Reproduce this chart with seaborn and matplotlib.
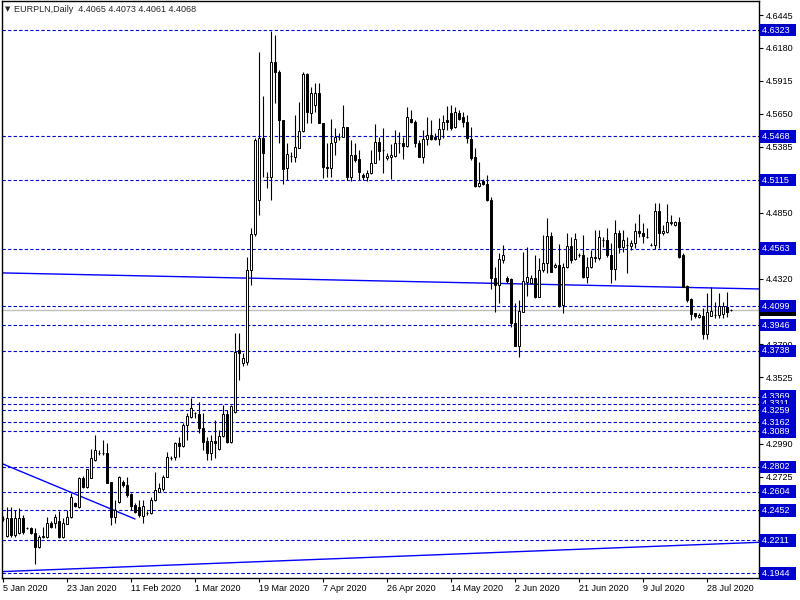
import numpy as np
import pandas as pd
import matplotlib
matplotlib.use("Agg")
import matplotlib.pyplot as plt
import matplotlib.transforms as mtransforms
import seaborn as sns

symbol = "EURPLN,Daily"

# daily candles, one per trading day (broker has Sunday bars), 5 Jan 2020 .. 4 Aug 2020
opens = [
    4.2383, 4.2246, 4.2391, 4.2254, 4.2270, 4.2391, 4.2310, 4.2310, 4.2270, 4.2157,
    4.2238, 4.2238, 4.2351, 4.2351, 4.2367, 4.2238, 4.2343, 4.2399, 4.2512, 4.2480,
    4.2713, 4.2641, 4.2713, 4.2858, 4.2915, 4.2915, 4.2915, 4.2681, 4.2399, 4.2520,
    4.2681, 4.2657, 4.2584, 4.2496, 4.2480, 4.2407, 4.2431, 4.2431, 4.2536, 4.2600,
    4.2625, 4.2721, 4.2875, 4.2883, 4.2995, 4.2971, 4.3140, 4.3205, 4.3237, 4.3229,
    4.3116, 4.3012, 4.2915, 4.3012, 4.2947, 4.3052, 4.3229, 4.3003, 4.3245, 4.3745,
    4.3640, 4.3648, 4.4390, 4.4680, 4.4954, 4.5454, 4.5139, 4.5139, 4.6066, 4.5986,
    4.5599, 4.5212, 4.5309, 4.5301, 4.5373, 4.5510, 4.5970, 4.5655, 4.5720, 4.5816,
    4.5575, 4.5220, 4.5212, 4.5421, 4.5462, 4.5462, 4.5542, 4.5139, 4.5317, 4.5284,
    4.5155, 4.5139, 4.5172, 4.5252, 4.5421, 4.5357, 4.5293, 4.5301, 4.5309, 4.5413,
    4.5413, 4.5389, 4.5607, 4.5583, 4.5413, 4.5301, 4.5446, 4.5478, 4.5462, 4.5446,
    4.5526, 4.5599, 4.5655, 4.5542, 4.5655, 4.5623, 4.5583, 4.5446, 4.5301, 4.5067,
    4.5107, 4.5083, 4.4954, 4.4325, 4.4269, 4.4470, 4.4325, 4.4317, 4.3963, 4.3777,
    4.4051, 4.4293, 4.4285, 4.4325, 4.4172, 4.4390, 4.4446, 4.4664, 4.4414, 4.4430,
    4.4108, 4.4414, 4.4583, 4.4478, 4.4511, 4.4511, 4.4333, 4.4414, 4.4487, 4.4487,
    4.4632, 4.4632, 4.4511, 4.4398, 4.4688, 4.4575, 4.4591, 4.4583, 4.4607, 4.4704,
    4.4688, 4.4656, 4.4591, 4.4591, 4.4865, 4.4688, 4.4696, 4.4769, 4.4752, 4.4777,
    4.4511, 4.4261, 4.4156, 4.4043, 4.4011, 4.4019, 4.3874, 4.4019, 4.4027, 4.4027,
    4.4035, 4.4092, 4.4065,
]
highs = [
    4.2407, 4.2480, 4.2480, 4.2455, 4.2472, 4.2415, 4.2318, 4.2318, 4.2310, 4.2254,
    4.2318, 4.2399, 4.2367, 4.2423, 4.2447, 4.2391, 4.2455, 4.2592, 4.2520, 4.2721,
    4.2729, 4.2786, 4.2947, 4.3060, 4.2939, 4.3020, 4.2995, 4.2681, 4.2536, 4.2729,
    4.2697, 4.2721, 4.2592, 4.2512, 4.2536, 4.2536, 4.2447, 4.2560, 4.2762, 4.2673,
    4.2737, 4.2923, 4.2891, 4.3003, 4.3044, 4.3157, 4.3237, 4.3358, 4.3245, 4.3326,
    4.3237, 4.3044, 4.3060, 4.3181, 4.3100, 4.3302, 4.3261, 4.3302, 4.3882, 4.3882,
    4.3721, 4.4495, 4.4728, 4.5454, 4.6147, 4.5792, 4.5180, 4.6316, 4.6284, 4.6002,
    4.5599, 4.5413, 4.5341, 4.5639, 4.5744, 4.5986, 4.5978, 4.5865, 4.5897, 4.5897,
    4.5575, 4.5413, 4.5607, 4.5534, 4.5494, 4.5720, 4.5542, 4.5438, 4.5413, 4.5357,
    4.5172, 4.5196, 4.5357, 4.5567, 4.5462, 4.5534, 4.5333, 4.5405, 4.5518, 4.5502,
    4.5462, 4.5704, 4.5679, 4.5599, 4.5438, 4.5518, 4.5623, 4.5599, 4.5494, 4.5615,
    4.5639, 4.5712, 4.5720, 4.5704, 4.5679, 4.5663, 4.5639, 4.5542, 4.5373, 4.5260,
    4.5123, 4.5155, 4.4978, 4.4414, 4.4527, 4.4591, 4.4341, 4.4325, 4.4124, 4.4148,
    4.4535, 4.4575, 4.4349, 4.4511, 4.4487, 4.4672, 4.4809, 4.4696, 4.4446, 4.4599,
    4.4446, 4.4688, 4.4656, 4.4688, 4.4527, 4.4672, 4.4495, 4.4551, 4.4712, 4.4712,
    4.4656, 4.4728, 4.4607, 4.4793, 4.4712, 4.4712, 4.4656, 4.4632, 4.4769, 4.4841,
    4.4769, 4.4728, 4.4607, 4.4930, 4.4930, 4.4752, 4.4922, 4.4833, 4.4785, 4.4817,
    4.4527, 4.4269, 4.4164, 4.4043, 4.4043, 4.4084, 4.4204, 4.4253, 4.4132, 4.4204,
    4.4132, 4.4212, 4.4073,
]
lows = [
    4.2367, 4.2238, 4.2238, 4.2238, 4.2262, 4.2262, 4.2302, 4.2262, 4.2020, 4.2149,
    4.2230, 4.2230, 4.2310, 4.2310, 4.2230, 4.2230, 4.2343, 4.2391, 4.2480, 4.2472,
    4.2633, 4.2633, 4.2713, 4.2850, 4.2899, 4.2899, 4.2673, 4.2334, 4.2351, 4.2512,
    4.2641, 4.2560, 4.2455, 4.2431, 4.2399, 4.2351, 4.2415, 4.2423, 4.2528, 4.2600,
    4.2609, 4.2721, 4.2858, 4.2858, 4.2883, 4.2963, 4.3020, 4.3197, 4.3197, 4.3076,
    4.2939, 4.2858, 4.2858, 4.2875, 4.2939, 4.3044, 4.2995, 4.2995, 4.3237, 4.3503,
    4.3616, 4.3624, 4.4269, 4.4664, 4.4833, 4.5139, 4.5051, 4.4954, 4.5736, 4.5413,
    4.5083, 4.5115, 4.5260, 4.5260, 4.5373, 4.5502, 4.5575, 4.5575, 4.5663, 4.5575,
    4.5131, 4.5139, 4.5139, 4.5317, 4.5438, 4.5462, 4.5115, 4.5107, 4.5260, 4.5115,
    4.5115, 4.5107, 4.5164, 4.5252, 4.5276, 4.5172, 4.5276, 4.5123, 4.5301, 4.5333,
    4.5284, 4.5381, 4.5575, 4.5381, 4.5301, 4.5252, 4.5397, 4.5438, 4.5438, 4.5397,
    4.5454, 4.5518, 4.5518, 4.5534, 4.5599, 4.5542, 4.5413, 4.5276, 4.5059, 4.5059,
    4.5075, 4.4946, 4.4237, 4.4051, 4.4124, 4.4446, 4.4285, 4.3930, 4.3777, 4.3689,
    4.4051, 4.4180, 4.4285, 4.4164, 4.4172, 4.4374, 4.4366, 4.4374, 4.4406, 4.4092,
    4.4043, 4.4406, 4.4446, 4.4470, 4.4495, 4.4325, 4.4285, 4.4406, 4.4454, 4.4470,
    4.4575, 4.4495, 4.4285, 4.4309, 4.4527, 4.4535, 4.4366, 4.4551, 4.4567, 4.4656,
    4.4607, 4.4648, 4.4583, 4.4559, 4.4567, 4.4672, 4.4688, 4.4752, 4.4744, 4.4487,
    4.4253, 4.4132, 4.3987, 4.4003, 4.4003, 4.3834, 4.3834, 4.4019, 4.4003, 4.4003,
    4.4003, 4.4011, 4.4061,
]
closes = [
    4.2383, 4.2391, 4.2254, 4.2391, 4.2391, 4.2278, 4.2310, 4.2270, 4.2157, 4.2238,
    4.2246, 4.2351, 4.2318, 4.2399, 4.2238, 4.2351, 4.2399, 4.2560, 4.2488, 4.2713,
    4.2641, 4.2786, 4.2875, 4.2939, 4.2915, 4.2915, 4.2673, 4.2399, 4.2455, 4.2721,
    4.2657, 4.2576, 4.2488, 4.2439, 4.2415, 4.2488, 4.2431, 4.2536, 4.2617, 4.2633,
    4.2721, 4.2883, 4.2875, 4.2995, 4.2971, 4.3140, 4.3213, 4.3278, 4.3237, 4.3116,
    4.3003, 4.2915, 4.3012, 4.2995, 4.3052, 4.3229, 4.3003, 4.3294, 4.3729, 4.3721,
    4.3681, 4.4390, 4.4680, 4.5438, 4.5454, 4.5333, 4.5139, 4.6066, 4.5986, 4.5599,
    4.5204, 4.5325, 4.5309, 4.5381, 4.5510, 4.5970, 4.5663, 4.5816, 4.5816, 4.5575,
    4.5220, 4.5212, 4.5413, 4.5462, 4.5462, 4.5542, 4.5139, 4.5317, 4.5276, 4.5180,
    4.5139, 4.5172, 4.5252, 4.5421, 4.5349, 4.5357, 4.5309, 4.5317, 4.5413, 4.5413,
    4.5389, 4.5623, 4.5583, 4.5413, 4.5301, 4.5446, 4.5478, 4.5446, 4.5446, 4.5526,
    4.5583, 4.5583, 4.5534, 4.5663, 4.5607, 4.5583, 4.5454, 4.5293, 4.5067, 4.5091,
    4.5083, 4.4954, 4.4325, 4.4269, 4.4478, 4.4511, 4.4301, 4.3963, 4.3777, 4.4059,
    4.4301, 4.4333, 4.4325, 4.4172, 4.4390, 4.4446, 4.4664, 4.4374, 4.4430, 4.4100,
    4.4414, 4.4583, 4.4470, 4.4640, 4.4511, 4.4333, 4.4414, 4.4495, 4.4495, 4.4656,
    4.4632, 4.4511, 4.4398, 4.4688, 4.4575, 4.4632, 4.4591, 4.4607, 4.4704, 4.4688,
    4.4664, 4.4656, 4.4591, 4.4865, 4.4688, 4.4704, 4.4777, 4.4777, 4.4777, 4.4495,
    4.4253, 4.4148, 4.4035, 4.4019, 4.4027, 4.3874, 4.4051, 4.4059, 4.4027, 4.4100,
    4.4100, 4.4051, 4.4068,
]

# every 16th bar gets a date label
date_labels = ["5 Jan 2020", "23 Jan 2020", "11 Feb 2020", "1 Mar 2020", "19 Mar 2020",
               "7 Apr 2020", "26 Apr 2020", "14 May 2020", "2 Jun 2020", "21 Jun 2020",
               "9 Jul 2020", "28 Jul 2020"]
date_step = 16

# price scale labels that are not fully covered by a level box
price_ticks = [4.6445, 4.6180, 4.5915, 4.5650, 4.5385, 4.4850, 4.4320,
               4.4055, 4.3790, 4.3525, 4.2990, 4.2725, 4.2195, 4.1930]

# horizontal support / resistance levels
levels = [4.6323, 4.5468, 4.5115, 4.4563, 4.4099, 4.3946, 4.3738, 4.3369, 4.3311,
          4.3259, 4.3162, 4.3089, 4.2802, 4.2604, 4.2452, 4.2211, 4.1944]

# trend lines: anchor bars and prices
trend_bars = [[-1, 189], [0, 33], [-1, 189]]
trend_prices = [[4.4367, 4.4237], [4.2826, 4.2383], [4.1958, 4.2195]]

sns.set_style("white")
plt.rcParams['font.family'] = ['Liberation Sans', 'DejaVu Sans']

o = np.array(opens)
h = np.array(highs)
l = np.array(lows)
c = np.array(closes)
x = np.arange(len(o))
up = c >= o

fig = plt.figure(figsize=(8, 6), dpi=100)
ax = fig.add_axes([2 / 800, 1 - 578 / 600, 757 / 800, 577 / 600])

level_blue = '#0000CD'
for lv in levels:
    ax.axhline(lv, color=level_blue, lw=0.8, linestyle=(0, (3, 2)), zorder=1)

ax.axhline(c[-1], color='#C0C0C0', lw=1, zorder=1)

for bars, prices in zip(trend_bars, trend_prices):
    tl = pd.DataFrame({'bar': bars, 'price': prices})
    sns.lineplot(data=tl, x='bar', y='price', ax=ax, color='#0000FF', lw=1, zorder=2)

ax.vlines(x, l, h, color='black', lw=0.8, zorder=3)
ax.bar(x, np.abs(c - o), bottom=np.minimum(o, c), width=0.5,
       color=np.where(up, 'white', 'black'), edgecolor='black', linewidth=0.7, zorder=4)

ax.set_xlim(-0.25, 189)
ax.set_ylim(4.6566 - 0.000806 * 578, 4.6566 - 0.000806 * 1)
ax.set_xlabel('')
ax.set_ylabel('')

ax.yaxis.tick_right()
ax.set_yticks(price_ticks)
ax.set_yticklabels([f"{t:.4f}" for t in price_ticks])
ax.set_xticks(np.arange(len(date_labels)) * date_step)
ax.set_xticklabels(date_labels, ha='left')
ax.tick_params(axis='y', length=3, width=0.8, pad=2, labelsize=6.5, colors='black', right=True)
ax.tick_params(axis='x', length=3, width=0.8, pad=1.5, labelsize=6.5, colors='black', bottom=True)
for sp in ax.spines.values():
    sp.set_color('black')
    sp.set_linewidth(1)

trans = mtransforms.blended_transform_factory(ax.transAxes, ax.transData)
# current price box sits under the level boxes
ax.text(1.004, c[-1], f"{c[-1]:.4f}  ", transform=trans, ha='left', va='center',
        fontsize=6.5, color='white', clip_on=False, zorder=6,
        bbox=dict(boxstyle='square,pad=0.2', fc='black', ec='none'))
for lv in levels:
    ax.text(1.004, lv, f"{lv:.4f}  ", transform=trans, ha='left', va='center',
            fontsize=6.5, color='white', clip_on=False, zorder=7,
            bbox=dict(boxstyle='square,pad=0.2', fc=level_blue, ec='none'))

fig.text(5 / 800, 1 - 9 / 600, "\u25bc", fontsize=5, va='center', ha='left',
         family=['DejaVu Sans'])
fig.text(14 / 800, 1 - 9 / 600,
         f"{symbol}  {opens[-1]:.4f} {highs[-1]:.4f} {lows[-1]:.4f} {closes[-1]:.4f}",
         fontsize=6.5, va='center', ha='left')

fig.savefig('out.png', dpi=100, facecolor='white')
